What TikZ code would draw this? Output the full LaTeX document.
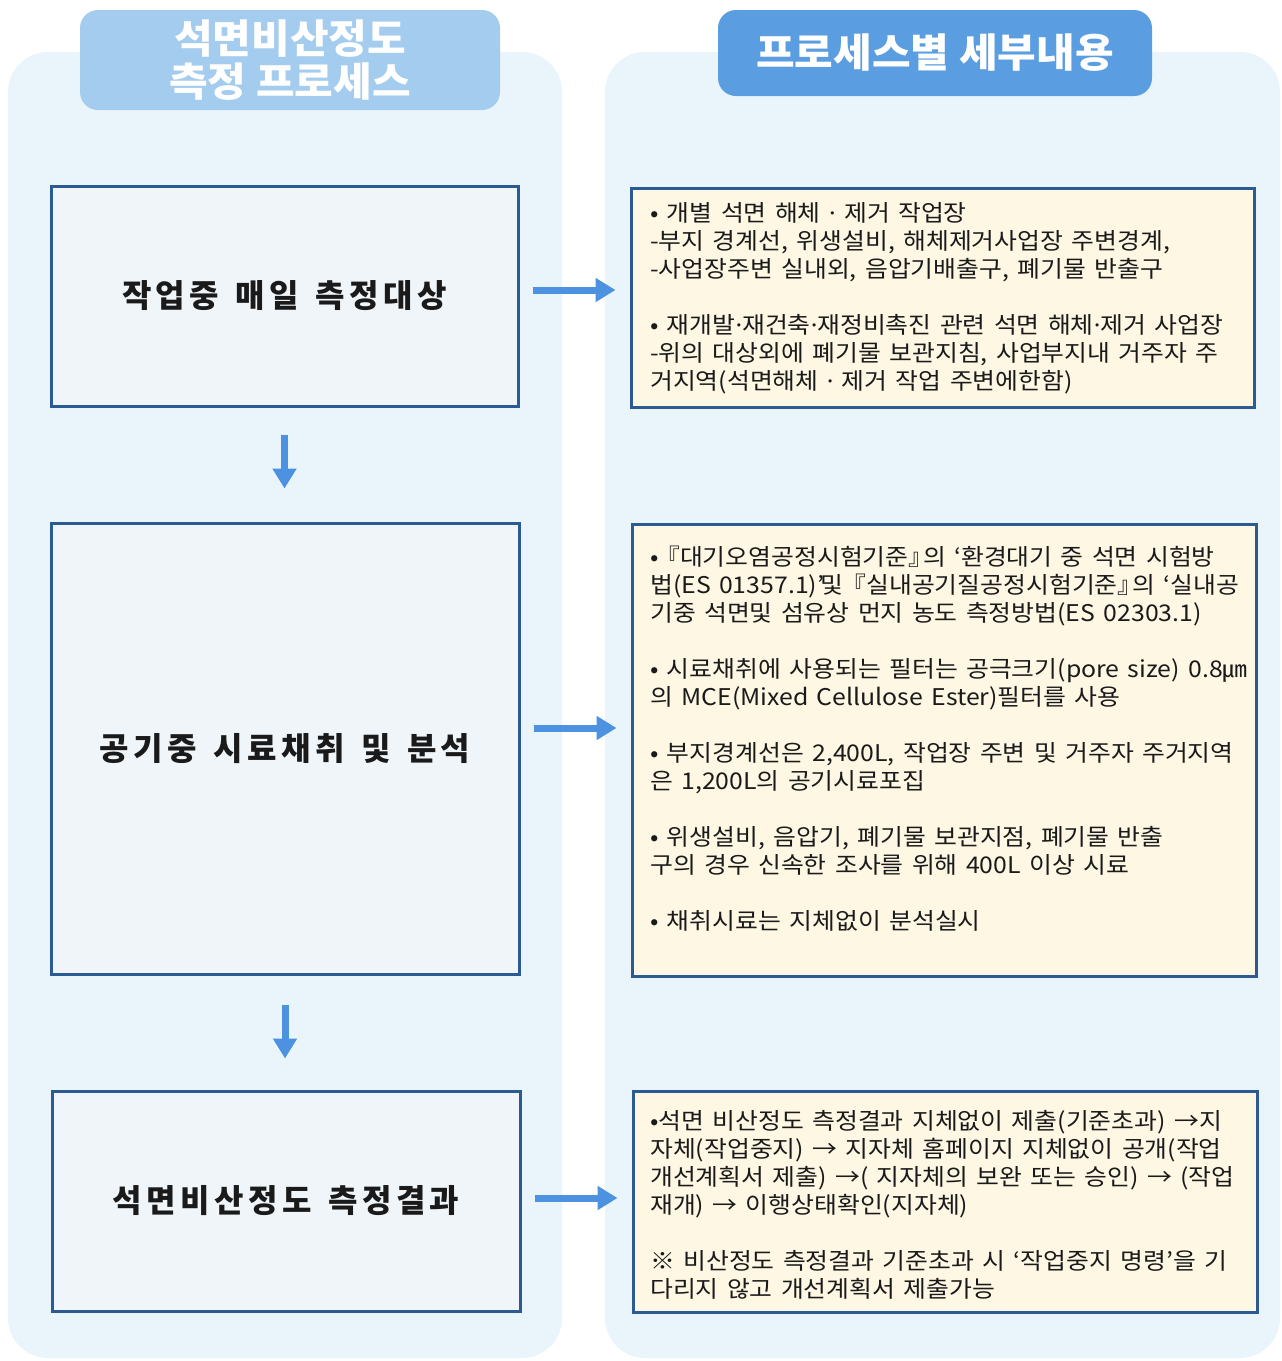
\documentclass[tikz,border=0pt]{standalone}
\usepackage{fontspec}
\setmainfont{Noto Sans CJK KR}
\newfontfamily\bodyfont[FakeStretch=1.08, WordSpace=1.5]{Noto Sans CJK KR}
\newfontfamily\dotfont[FakeStretch=1.08]{Noto Sans}
\newfontfamily\leftfont[LetterSpace=14, WordSpace=1.4]{Noto Sans CJK KR}
\newfontfamily\hdrfont[FakeStretch=1.05]{Noto Sans CJK KR}
\newcommand{\mdot}{{\dotfont\char"00B7}}
\usetikzlibrary{arrows.meta}
\definecolor{panel}{HTML}{E9F5FB}
\definecolor{hdrlight}{HTML}{A4CCEE}
\definecolor{hdrdark}{HTML}{5A9EE1}
\definecolor{boxborder}{HTML}{2C5B93}
\definecolor{arrowblue}{HTML}{4C92E0}
\definecolor{leftfill}{HTML}{EFF5F9}
\definecolor{rightfill}{HTML}{FDF7E3}
\definecolor{txt}{HTML}{1A1A1A}
\tikzset{
  hdrbox/.style={rounded corners=18pt, text=white, font=\hdrfont\fontsize{40}{43}\selectfont\bfseries, align=center, inner sep=0pt},
  leftbox/.style={draw=boxborder, line width=3pt, fill=leftfill, inner sep=0pt, font=\leftfont\fontsize{32}{36}\selectfont\bfseries, text=txt},
  rightbox/.style={draw=boxborder, line width=3pt, fill=rightfill, inner sep=0pt},
  bodytext/.style={anchor=north west, inner sep=0pt, align=left, text=txt, font=\bodyfont\fontsize{23}{28}\selectfont},
  arrowc/.style={draw=arrowblue, line width=7pt, -{Triangle[width=23pt,length=20pt]}}
}
\begin{document}
\begin{tikzpicture}[x=1pt,y=-1pt]
\useasboundingbox (0,0) rectangle (1282,1361);
\fill[white] (0,0) rectangle (1282,1361);
\fill[panel, rounded corners=40pt] (8,52) rectangle (562,1358);
\fill[panel, rounded corners=40pt] (605,52) rectangle (1280,1358);

\node[hdrbox, fill=hdrlight, minimum width=420pt, minimum height=100pt] (HL) at (290,60) {석면비산정도\\측정 프로세스};
\node[hdrbox, fill=hdrdark, minimum width=434pt, minimum height=86pt] (HR) at (935,53) {프로세스별 세부내용};

\node[leftbox, minimum width=467pt, minimum height=220pt] (L1) at (284.5,296) {작업중 매일 측정대상};
\node[leftbox, minimum width=468pt, minimum height=451pt] (L2) at (285,748.5) {공기중 시료채취 및 분석};
\node[leftbox, minimum width=468pt, minimum height=220pt] (L3) at (286,1201) {석면비산정도 측정결과};

\node[rightbox, minimum width=623pt, minimum height=219pt] (R1) at (942.5,297.5) {};
\node[rightbox, minimum width=624pt, minimum height=452pt] (R2) at (944,750) {};
\node[rightbox, minimum width=624pt, minimum height=221pt] (R3) at (945,1201.5) {};

\node[bodytext] (T1) at (650,202) {• 개별 석면 해체 \mdot{} 제거 작업장\\
-부지 경계선, 위생설비, 해체제거사업장 주변경계,\\
-사업장주변 실내외, 음압기배출구, 폐기물 반출구\\[28pt]
• 재개발\mdot 재건축\mdot 재정비촉진 관련 석면 해체\mdot 제거 사업장\\
-위의 대상외에 폐기물 보관지침, 사업부지내 거주자 주\\
거지역(석면해체 \mdot{} 제거 작업 주변에한함)};

\node[bodytext] (T2) at (650,546) {•\kern-0.15em『대기오염공정시험기준』\kern-0.45em 의 ‘환경대기 중 석면 시험방\\
법(ES 01357.1)’\kern-0.15em 및 \kern-0.45em『실내공기질공정시험기준』\kern-0.45em 의 ‘실내공\\
기중 석면및 섬유상 먼지 농도 측정방법(ES 02303.1)\\[28pt]
• 시료채취에 사용되는 필터는 공극크기(pore size) 0.8㎛\\
의 MCE(Mixed Cellulose Ester)필터를 사용\\[28pt]
• 부지경계선은 2,400L, 작업장 주변 및 거주자 주거지역\\
은 1,200L의 공기시료포집\\[28pt]
• 위생설비, 음압기, 폐기물 보관지점, 폐기물 반출\\
구의 경우 신속한 조사를 위해 400L 이상 시료\\[28pt]
• 채취시료는 지체없이 분석실시};

\node[bodytext] (T3) at (650,1110) {•석면 비산정도 측정결과 지체없이 제출(기준초과) →지\\
자체(작업중지) → 지자체 홈페이지 지체없이 공개(작업\\
개선계획서 제출) →( 지자체의 보완 또는 승인) → (작업\\
재개) → 이행상태확인(지자체)\\[28pt]
※ 비산정도 측정결과 기준초과 시 ‘작업중지 명령’을 기\\
다리지 않고 개선계획서 제출가능};

\draw[arrowc, shorten <=13pt, shorten >=14pt] ([yshift=6pt]L1.east) -- ([yshift=6pt]L1.east -| R1.west);
\draw[arrowc, shorten <=13pt, shorten >=14pt] ([yshift=20.5pt]L2.east) -- ([yshift=20.5pt]L2.east -| R2.west);
\draw[arrowc, shorten <=13pt, shorten >=14pt] ([yshift=3pt]L3.east) -- ([yshift=3pt]L3.east -| R3.west);
\draw[arrowc, shorten <=27pt, shorten >=33pt] (L1.south) -- (L1.south |- L2.north);
\draw[arrowc, shorten <=29pt, shorten >=31pt] (L2.south) -- (L2.south |- L3.north);
\end{tikzpicture}
\end{document}
